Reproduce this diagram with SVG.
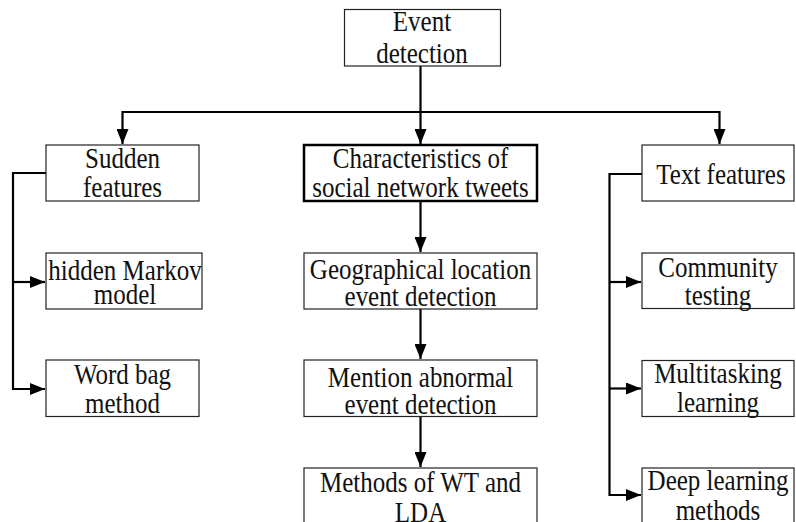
<svg xmlns="http://www.w3.org/2000/svg" width="796" height="522" viewBox="0 0 796 522">
<style>
.box{fill:#fff;stroke:#222;stroke-width:1.2}
.thick{fill:#fff;stroke:#000;stroke-width:2.5}
.t{font-family:"Liberation Serif","Times New Roman",serif;font-size:25px;fill:#111;text-anchor:middle}
.c{fill:none;stroke:#000;stroke-width:2.2}
</style>
<defs>
<marker id="ah" markerUnits="userSpaceOnUse" markerWidth="16" markerHeight="12" refX="15" refY="6" orient="auto">
<path d="M0,0 L15,6 L0,12 z" fill="#000"/>
</marker>
</defs>
<rect width="796" height="522" fill="#fff"/>
<g id="connectors">
<path class="c" d="M420.5,66 V144" marker-end="url(#ah)"/>
<path class="c" d="M420.5,112 H122.5 V144" marker-end="url(#ah)"/>
<path class="c" d="M420.5,112 H719.5 V144" marker-end="url(#ah)"/>
<path class="c" d="M46,173 H13 V389 H45" marker-end="url(#ah)"/>
<path class="c" d="M13,282 H45" marker-end="url(#ah)"/>
<path class="c" d="M420.5,201 V252" marker-end="url(#ah)"/>
<path class="c" d="M420.5,309 V359" marker-end="url(#ah)"/>
<path class="c" d="M420.5,417 V467" marker-end="url(#ah)"/>
<path class="c" d="M642,174 H609.5 V495 H641" marker-end="url(#ah)"/>
<path class="c" d="M609.5,282 H641" marker-end="url(#ah)"/>
<path class="c" d="M609.5,388.5 H641" marker-end="url(#ah)"/>
</g>
<g id="n-event">
<rect class="box" x="344.5" y="9.5" width="156" height="56.5"/>
<text class="t" transform="translate(422,31) scale(1,1.18)">Event</text>
<text class="t" transform="translate(422,62.7) scale(1,1.18)">detection</text>
</g>
<g id="n-sudden">
<rect class="box" x="46" y="145" width="153" height="56"/>
<text class="t" transform="translate(122.5,167.5) scale(1,1.18)">Sudden</text>
<text class="t" transform="translate(122.5,196.5) scale(1,1.18)">features</text>
</g>
<g id="n-markov">
<rect class="box" x="46" y="253" width="156" height="56"/>
<text class="t" transform="translate(125,280) scale(1,1.18)">hidden Markov</text>
<text class="t" transform="translate(125,304.3) scale(1,1.18)">model</text>
</g>
<g id="n-wordbag">
<rect class="box" x="46" y="360" width="153" height="56.5"/>
<text class="t" transform="translate(122.5,384) scale(1,1.18)">Word bag</text>
<text class="t" transform="translate(122.5,413) scale(1,1.18)">method</text>
</g>
<g id="n-char">
<rect class="thick" x="304" y="145" width="233" height="56"/>
<text class="t" transform="translate(420.5,167.5) scale(1,1.18)">Characteristics of</text>
<text class="t" transform="translate(420.5,196.5) scale(1,1.18)">social network tweets</text>
</g>
<g id="n-geo">
<rect class="box" x="304" y="253" width="233" height="56"/>
<text class="t" transform="translate(420.5,278.5) scale(1,1.18)">Geographical location</text>
<text class="t" transform="translate(420.5,306) scale(1,1.18)">event detection</text>
</g>
<g id="n-mention">
<rect class="box" x="304" y="360" width="233" height="56.5"/>
<text class="t" transform="translate(420.5,387) scale(1,1.18)">Mention abnormal</text>
<text class="t" transform="translate(420.5,414) scale(1,1.18)">event detection</text>
</g>
<g id="n-wt">
<rect class="box" x="304" y="468" width="233" height="60"/>
<text class="t" transform="translate(420.5,491.7) scale(1,1.18)">Methods of WT and</text>
<text class="t" transform="translate(420.5,521.5) scale(1,1.18)">LDA</text>
</g>
<g id="n-text">
<rect class="box" x="642" y="145" width="152" height="56"/>
<text class="t" transform="translate(721,183.5) scale(1,1.18)">Text features</text>
</g>
<g id="n-community">
<rect class="box" x="642" y="253" width="152" height="55.5"/>
<text class="t" transform="translate(718,276.7) scale(1,1.18)">Community</text>
<text class="t" transform="translate(718,305) scale(1,1.18)">testing</text>
</g>
<g id="n-multi">
<rect class="box" x="642" y="360.5" width="152" height="56"/>
<text class="t" transform="translate(718,383) scale(1,1.18)">Multitasking</text>
<text class="t" transform="translate(718,412) scale(1,1.18)">learning</text>
</g>
<g id="n-deep">
<rect class="box" x="642" y="468" width="152" height="60"/>
<text class="t" transform="translate(718,490) scale(1,1.18)">Deep learning</text>
<text class="t" transform="translate(718,520) scale(1,1.18)">methods</text>
</g>
</svg>
